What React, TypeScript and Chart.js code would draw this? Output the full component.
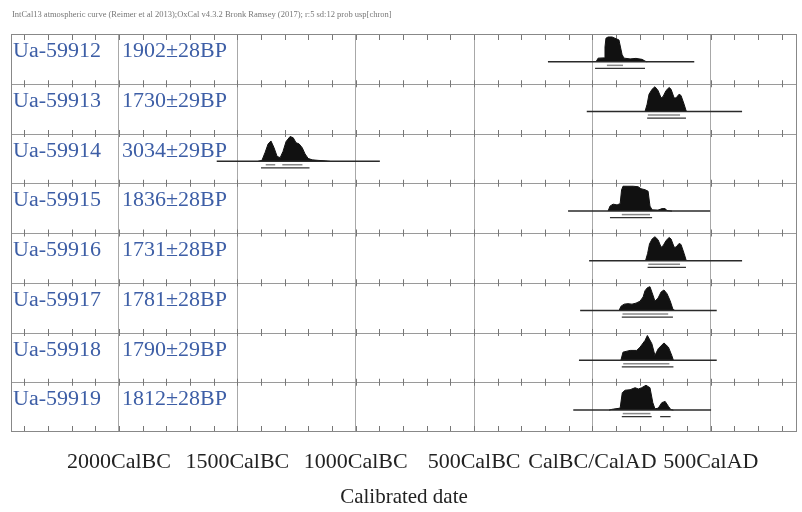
import React, { useEffect, useRef } from 'react';
import { Chart, registerables } from 'chart.js';

Chart.register(...registerables);

const HEADER_TEXT = 'IntCal13 atmospheric curve (Reimer et al 2013);OxCal v4.3.2 Bronk Ramsey (2017); r:5 sd:12 prob usp[chron]';
const AXIS_TITLE = 'Calibrated date';
const SAMPLE_IDS = ['Ua-59912', 'Ua-59913', 'Ua-59914', 'Ua-59915', 'Ua-59916', 'Ua-59917', 'Ua-59918', 'Ua-59919'];
const BP_DATES = ['1902±28BP', '1730±29BP', '3034±29BP', '1836±28BP', '1731±28BP', '1781±28BP', '1790±29BP', '1812±28BP'];
const X_MIN = -2456;
const X_MAX = 864;
const AXIS_TICKS = [-2000, -1500, -1000, -500, 0, 500];

// plotted calibration range (horizontal line) per sample, cal years (BC negative)
const PLOT_RANGES: [number, number][] = [
  [-188, 430], [-24, 632], [-1587, -898], [-103, 497], [-14, 632], [-52, 525], [-57, 525], [-81, 501],
];

// relative probability distributions [year, relative height]
const PROB_59912: [number, number][] = [
  [15, 0], [24, 0.15], [49, 0.16], [53, 0.6], [57, 0.95], [66, 1.0], [83, 1.0], [100, 0.93], [112, 0.88],
  [125, 0.3], [133, 0.15], [159, 0.12], [184, 0.14], [210, 0.1], [222, 0.03], [231, 0],
];
const PROB_59913: [number, number][] = [
  [222, 0], [231, 0.3], [239, 0.7], [252, 0.9], [264, 1.0], [277, 0.85], [290, 0.55], [298, 0.6], [311, 0.85],
  [324, 0.97], [332, 0.9], [345, 0.55], [353, 0.55], [366, 0.7], [374, 0.65], [387, 0.3], [395, 0.05], [400, 0],
];
const PROB_59914: [number, number][] = [
  [-1413, 0], [-1396, 0.04], [-1383, 0.35], [-1370, 0.7], [-1358, 0.82], [-1345, 0.55], [-1332, 0.2], [-1319, 0.15],
  [-1307, 0.4], [-1294, 0.8], [-1277, 1.0], [-1264, 0.95], [-1252, 0.75], [-1239, 0.7], [-1226, 0.55], [-1214, 0.3],
  [-1201, 0.12], [-1184, 0.06], [-1159, 0.04], [-1129, 0.02], [-1108, 0],
];
const PROB_59915: [number, number][] = [
  [66, 0], [74, 0.2], [87, 0.28], [104, 0.25], [117, 0.3], [123, 0.85], [129, 1.0], [150, 1.0], [172, 1.0],
  [193, 0.98], [205, 0.9], [222, 0.86], [235, 0.8], [243, 0.2], [252, 0.05], [277, 0.04], [294, 0.1], [307, 0.1],
  [315, 0.02], [336, 0],
];
const PROB_59916: [number, number][] = [
  [224, 0], [233, 0.3], [241, 0.68], [252, 0.88], [264, 0.97], [277, 0.85], [290, 0.55], [298, 0.6], [311, 0.82],
  [324, 0.94], [332, 0.88], [345, 0.55], [353, 0.55], [366, 0.7], [374, 0.66], [387, 0.3], [395, 0.05], [400, 0],
];
const PROB_59917: [number, number][] = [
  [112, 0], [121, 0.18], [134, 0.26], [150, 0.28], [167, 0.26], [184, 0.3], [201, 0.38], [214, 0.55], [222, 0.8],
  [232, 0.92], [243, 0.96], [252, 0.72], [264, 0.38], [277, 0.5], [290, 0.75], [302, 0.83], [315, 0.68],
  [328, 0.4], [340, 0.05], [349, 0],
];
const PROB_59918: [number, number][] = [
  [120, 0], [129, 0.33], [159, 0.4], [187, 0.4], [201, 0.53], [222, 0.8], [232, 1.0], [251, 0.67], [264, 0.2],
  [278, 0.47], [302, 0.7], [321, 0.53], [335, 0.2], [342, 0],
];
const PROB_59919: [number, number][] = [
  [70, 0], [82, 0.03], [117, 0.08], [126, 0.7], [138, 0.8], [159, 0.82], [180, 0.9], [194, 0.85], [208, 0.9],
  [226, 1.0], [243, 0.9], [255, 0.3], [264, 0.05], [278, 0.08], [293, 0.3], [307, 0.35], [321, 0.15], [331, 0.02], [342, 0],
];
const PROBS = [PROB_59912, PROB_59913, PROB_59914, PROB_59915, PROB_59916, PROB_59917, PROB_59918, PROB_59919];

// 68.2% and 95.4% ranges
const RANGE_68: [number, number][][] = [
  [[61, 129]], [[234, 370]], [[-1380, -1340], [-1310, -1225]], [[124, 243]], [[236, 370]], [[127, 320]], [[130, 325]], [[128, 245]],
];
const RANGE_95: [number, number][][] = [
  [[11, 222]], [[231, 395]], [[-1400, -1195]], [[74, 252]], [[233, 395]], [[124, 340]], [[124, 342]], [[124, 250], [286, 330]],
];

const ROWS = SAMPLE_IDS.length;
const BASE_OFFSET = 0.56;
const PEAK_HEIGHT = 0.5;

function formatYear(v: number): string {
  if (v < 0) return `${-v}CalBC`;
  if (v === 0) return 'CalBC/CalAD';
  return `${v}CalAD`;
}

function segmentsToData(segs: [number, number][], y: number) {
  const out: any[] = [];
  segs.forEach(([a, b], i) => {
    if (i > 0) out.push({ x: (a + segs[i - 1][1]) / 2, y: null });
    out.push({ x: a, y }, { x: b, y });
  });
  return out;
}

const framePlugin = {
  id: 'oxcalFrame',
  beforeDatasetsDraw(chart: any) {
    const { ctx, chartArea, scales } = chart;
    const xs = scales.x;
    const ys = scales.y;
    ctx.save();
    ctx.lineWidth = 1;
    // row separators
    ctx.strokeStyle = '#9a9a9a';
    for (let k = 1; k < ROWS; k++) {
      const y = Math.round(ys.getPixelForValue(k)) + 0.5;
      ctx.beginPath();
      ctx.moveTo(chartArea.left, y);
      ctx.lineTo(chartArea.right, y);
      ctx.stroke();
    }
    // tick marks every 100 years
    ctx.strokeStyle = '#777';
    const start = Math.ceil(X_MIN / 100) * 100;
    for (let v = start; v <= X_MAX; v += 100) {
      const x = Math.round(xs.getPixelForValue(v)) + 0.5;
      for (let k = 0; k <= ROWS; k++) {
        const y = ys.getPixelForValue(k);
        ctx.beginPath();
        if (k === ROWS) { ctx.moveTo(x, y); ctx.lineTo(x, y + 6); }
        else if (k === 0) { ctx.moveTo(x, y); ctx.lineTo(x, y - 6); }
        else { ctx.moveTo(x, y - 3.5); ctx.lineTo(x, y + 3.5); }
        ctx.stroke();
      }
    }
    // frame
    ctx.strokeStyle = '#888';
    ctx.strokeRect(Math.round(chartArea.left) + 0.5, Math.round(chartArea.top) + 0.5,
      Math.round(chartArea.right - chartArea.left) - 1, Math.round(chartArea.bottom - chartArea.top) - 1);
    ctx.restore();
  },
  afterDatasetsDraw(chart: any) {
    const { ctx, scales } = chart;
    const ys = scales.y;
    const xs = scales.x;
    ctx.save();
    ctx.fillStyle = '#3d5ea6';
    ctx.textBaseline = 'alphabetic';
    ctx.font = '20px "Liberation Serif", "Times New Roman", serif';
    for (let i = 0; i < ROWS; i++) {
      const top = ys.getPixelForValue(ROWS - i);
      const base = top + 23;
      const x1 = xs.getPixelForValue(-2000) + 3;
      ctx.save();
      ctx.translate(13, base);
      ctx.scale(1.1, 1);
      ctx.fillText(SAMPLE_IDS[i], 0, 0);
      ctx.restore();
      ctx.save();
      ctx.translate(x1, base);
      ctx.scale(1.1, 1);
      ctx.fillText(BP_DATES[i], 0, 0);
      ctx.restore();
    }
    ctx.restore();
  },
  afterDraw(chart: any) {
    const { ctx } = chart;
    ctx.save();
    ctx.fillStyle = '#777';
    ctx.font = '8.5px "Liberation Serif", serif';
    ctx.textBaseline = 'middle';
    ctx.fillText(HEADER_TEXT, 12, 15);
    ctx.restore();
  },
};

export default function App() {
  const canvasRef = useRef<HTMLCanvasElement | null>(null);

  useEffect(() => {
    document.body.style.margin = '0';
    const canvas = canvasRef.current;
    if (!canvas) return;

    const datasets: any[] = [];
    for (let i = 0; i < ROWS; i++) {
      const b = ROWS - i - BASE_OFFSET;
      const [r0, r1] = PLOT_RANGES[i];
      datasets.push({
        type: 'line',
        data: [{ x: r0, y: b }, { x: r1, y: b }],
        borderColor: '#2a2a2a',
        borderWidth: 1.5,
        pointRadius: 0,
        fill: false,
      });
      datasets.push({
        type: 'line',
        data: PROBS[i].map(([x, p]) => ({ x, y: b + p * PEAK_HEIGHT })),
        borderColor: '#111',
        backgroundColor: '#111',
        borderWidth: 1,
        pointRadius: 0,
        tension: 0,
        fill: { value: b },
      });
      datasets.push({
        type: 'line',
        data: segmentsToData(RANGE_68[i], b - 0.07),
        borderColor: '#8a8a8a',
        borderWidth: 1.5,
        pointRadius: 0,
        spanGaps: false,
        fill: false,
      });
      datasets.push({
        type: 'line',
        data: segmentsToData(RANGE_95[i], b - 0.13),
        borderColor: '#333',
        borderWidth: 1.2,
        pointRadius: 0,
        spanGaps: false,
        fill: false,
      });
    }

    const chart = new Chart(canvas, {
      type: 'line',
      data: { datasets },
      plugins: [framePlugin],
      options: {
        animation: false,
        responsive: false,
        events: [],
        layout: { padding: { top: 34, left: 11, right: 5, bottom: 0 } },
        plugins: { legend: { display: false }, tooltip: { enabled: false } },
        scales: {
          x: {
            type: 'linear',
            min: X_MIN,
            max: X_MAX,
            afterBuildTicks: (scale: any) => {
              scale.ticks = AXIS_TICKS.map((v) => ({ value: v }));
            },
            afterFit: (scale: any) => {
              scale.height = 80;
            },
            ticks: {
              autoSkip: false,
              maxRotation: 0,
              padding: 17,
              color: '#222',
              font: { family: '"Liberation Serif", "Times New Roman", serif', size: 22, lineHeight: 1.2 },
              callback: (v: any) => formatYear(Number(v)),
            },
            grid: { color: '#a8a8a8', lineWidth: 1, drawTicks: false },
            border: { display: false },
            title: {
              display: true,
              text: AXIS_TITLE,
              color: '#222',
              font: { family: '"Liberation Serif", "Times New Roman", serif', size: 21, lineHeight: 1.2 },
              padding: { top: 0, bottom: 2 },
            },
          },
          y: {
            type: 'linear',
            display: false,
            min: 0,
            max: ROWS,
          },
        },
      },
    });
    return () => chart.destroy();
  }, []);

  return (
    <div style={{ width: 802, height: 512, background: '#fff' }}>
      <canvas ref={canvasRef} width={802} height={512} style={{ width: 802, height: 512, display: 'block' }} />
    </div>
  );
}
